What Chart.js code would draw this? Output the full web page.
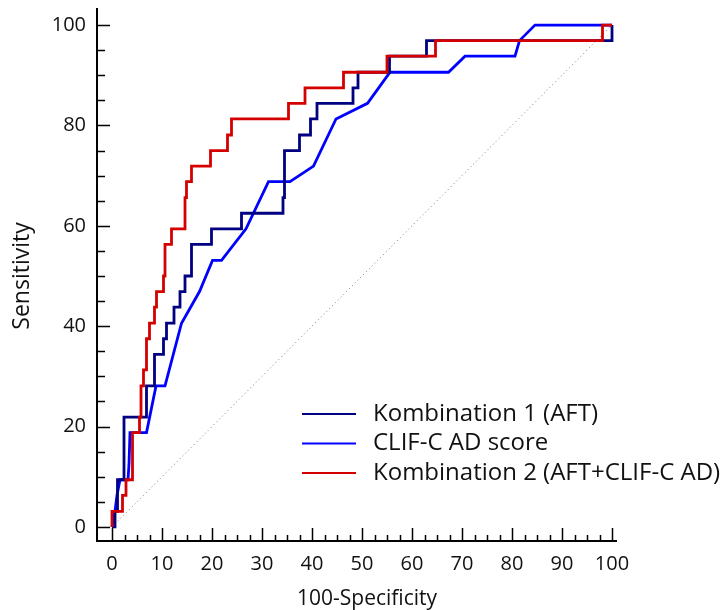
<!DOCTYPE html>
<html>
<head>
<meta charset="utf-8">
<script src="https://cdn.jsdelivr.net/npm/chart.js@4"></script>
<style>
  html, body { margin: 0; padding: 0; background: #fff; }
  #roc { display: block; }
</style>
</head>
<body>
<canvas id="roc" width="728" height="610"></canvas>
<script>
// ROC curves: x = 100-Specificity, y = Sensitivity
const kombi1X = [0, 0.6, 0.6, 1.1, 1.1, 2.4, 2.4, 6.9, 6.9, 8.5, 8.5, 10.3, 10.3, 10.9, 10.9, 12.4, 12.4, 13.6, 13.6, 14.6, 14.6, 15.9, 15.9, 19.9, 19.9, 25.9, 25.9, 34.2, 34.2, 34.5, 34.5, 37.5, 37.5, 39.7, 39.7, 41.0, 41.0, 48.2, 48.2, 49.2, 49.2, 55.5, 55.5, 62.9, 62.9, 100, 100];
const kombi1Y = [0, 0, 3.1, 3.1, 9.4, 9.4, 21.9, 21.9, 28.1, 28.1, 34.4, 34.4, 37.5, 37.5, 40.6, 40.6, 43.8, 43.8, 46.9, 46.9, 50.0, 50.0, 56.3, 56.3, 59.4, 59.4, 62.5, 62.5, 65.6, 65.6, 75.0, 75.0, 78.1, 78.1, 81.3, 81.3, 84.4, 84.4, 87.5, 87.5, 90.6, 90.6, 93.8, 93.8, 96.9, 96.9, 100];

const clifX = [0, 0.6, 1.0, 1.6, 3.2, 3.4, 3.6, 6.9, 8.8, 10.6, 13.9, 17.5, 20.1, 21.9, 26.8, 31.3, 35.6, 40.3, 44.8, 51.1, 55.6, 67.3, 70.6, 80.6, 81.5, 84.6, 100];
const clifY = [0, 3.1, 6.3, 9.4, 9.4, 12.5, 18.8, 18.8, 28.1, 28.1, 40.6, 46.9, 53.1, 53.1, 59.4, 68.8, 68.8, 71.9, 81.3, 84.4, 90.6, 90.6, 93.8, 93.8, 96.9, 100, 100];

const kombi2X = [0, 0, 2.1, 2.1, 2.8, 2.8, 4.1, 4.1, 5.5, 5.5, 5.8, 5.8, 6.3, 6.3, 6.9, 6.9, 7.5, 7.5, 8.5, 8.5, 8.9, 8.9, 10.3, 10.3, 10.6, 10.6, 11.9, 11.9, 14.6, 14.6, 14.9, 14.9, 15.9, 15.9, 19.7, 19.7, 23.1, 23.1, 23.9, 23.9, 35.3, 35.3, 38.6, 38.6, 46.3, 46.3, 55.0, 55.0, 64.7, 64.7, 98.1, 98.1, 100];
const kombi2Y = [0, 3.1, 3.1, 6.3, 6.3, 9.4, 9.4, 18.8, 18.8, 21.9, 21.9, 28.1, 28.1, 31.3, 31.3, 37.5, 37.5, 40.6, 40.6, 43.8, 43.8, 46.9, 46.9, 50.0, 50.0, 56.3, 56.3, 59.4, 59.4, 65.6, 65.6, 68.8, 68.8, 71.9, 71.9, 75.0, 75.0, 78.1, 78.1, 81.3, 81.3, 84.4, 84.4, 87.5, 87.5, 90.6, 90.6, 93.8, 93.8, 96.9, 96.9, 100, 100];

const refLineX = [0, 100];
const refLineY = [0, 100];

const seriesLabels = ['Kombination 1 (AFT)', 'CLIF-C AD score', 'Kombination 2 (AFT+CLIF-C AD)'];
const seriesColors = ['#000080', '#0000ff', '#d40000'];

const xTicks = [0, 10, 20, 30, 40, 50, 60, 70, 80, 90, 100];
const yTicks = [0, 20, 40, 60, 80, 100];
const xMinorStep = 2.5;
const yMinorStep = 5;
const xTitle = '100-Specificity';
const yTitle = 'Sensitivity';

const FONT = '"Open Sans", "DejaVu Sans", sans-serif';

function toPoints(xs, ys) {
    return xs.map((x, i) => ({ x: x, y: ys[i] }));
}

// axes are drawn by hand: ticks point inwards and the axes sit apart from the origin
const rocAxes = {
    id: 'rocAxes',
    afterDraw(chart) {
        const ctx = chart.ctx;
        const xs = chart.scales.x;
        const ys = chart.scales.y;
        const area = chart.chartArea;
        const axisX = area.left;
        const axisY = area.bottom;

        ctx.save();
        ctx.strokeStyle = '#000';
        ctx.lineWidth = 2;
        ctx.beginPath();
        ctx.moveTo(axisX, area.top);
        ctx.lineTo(axisX, axisY);
        ctx.lineTo(area.right, axisY);
        ctx.stroke();

        ctx.lineWidth = 1.5;
        ctx.beginPath();
        for (let v = 0; v <= 100; v += yMinorStep) {
            const py = Math.round(ys.getPixelForValue(v)) + 0.5;
            const len = yTicks.includes(v) ? 13 : 8;
            ctx.moveTo(axisX, py);
            ctx.lineTo(axisX + len, py);
        }
        for (let v = 0; v <= 100; v += xMinorStep) {
            const px = Math.round(xs.getPixelForValue(v)) + 0.5;
            const len = xTicks.includes(v) ? 13 : 6;
            ctx.moveTo(px, axisY);
            ctx.lineTo(px, axisY - len);
        }
        ctx.stroke();

        ctx.fillStyle = '#111';
        ctx.font = '20px ' + FONT;
        ctx.textAlign = 'right';
        ctx.textBaseline = 'middle';
        yTicks.forEach(v => ctx.fillText(String(v), axisX - 11, ys.getPixelForValue(v)));
        ctx.textAlign = 'center';
        xTicks.forEach(v => ctx.fillText(String(v), xs.getPixelForValue(v), axisY + 23));

        ctx.font = '21px ' + FONT;
        ctx.fillText(xTitle, xs.getPixelForValue(51), axisY + 58);
        ctx.font = '23px ' + FONT;
        ctx.translate(22, ys.getPixelForValue(50));
        ctx.rotate(-Math.PI / 2);
        ctx.fillText(yTitle, 0, 0);
        ctx.restore();

        // legend in the lower right corner
        ctx.save();
        ctx.font = '24px ' + FONT;
        ctx.textAlign = 'left';
        ctx.textBaseline = 'middle';
        seriesLabels.forEach((label, i) => {
            const y = 414 + i * 29.5;
            ctx.strokeStyle = seriesColors[i];
            ctx.lineWidth = 2;
            ctx.beginPath();
            ctx.moveTo(302, y);
            ctx.lineTo(356, y);
            ctx.stroke();
            ctx.fillStyle = '#111';
            ctx.fillText(label, 373, y);
        });
        ctx.restore();
    }
};

const curveStyle = {
    fill: false,
    tension: 0,
    pointRadius: 0,
    borderWidth: 2.8
};

new Chart(document.getElementById('roc'), {
    type: 'line',
    data: {
        datasets: [
            Object.assign({ label: seriesLabels[0], data: toPoints(kombi1X, kombi1Y), borderColor: seriesColors[0], order: 1 }, curveStyle),
            Object.assign({ label: seriesLabels[1], data: toPoints(clifX, clifY), borderColor: seriesColors[1], order: 2 }, curveStyle),
            Object.assign({ label: seriesLabels[2], data: toPoints(kombi2X, kombi2Y), borderColor: seriesColors[2], order: 0 }, curveStyle),
            {
                label: 'reference',
                data: toPoints(refLineX, refLineY),
                borderColor: '#777',
                borderWidth: 1,
                borderDash: [1, 3],
                pointRadius: 0,
                tension: 0,
                order: 3
            }
        ]
    },
    options: {
        responsive: false,
        animation: false,
        layout: { padding: { left: 97, right: 111, top: 8, bottom: 69 } },
        scales: {
            x: { type: 'linear', min: -3, max: 101, display: false },
            y: { type: 'linear', min: -2.8, max: 103.4, display: false }
        },
        plugins: {
            legend: { display: false },
            tooltip: { enabled: false }
        }
    },
    plugins: [rocAxes]
});
</script>
</body>
</html>
